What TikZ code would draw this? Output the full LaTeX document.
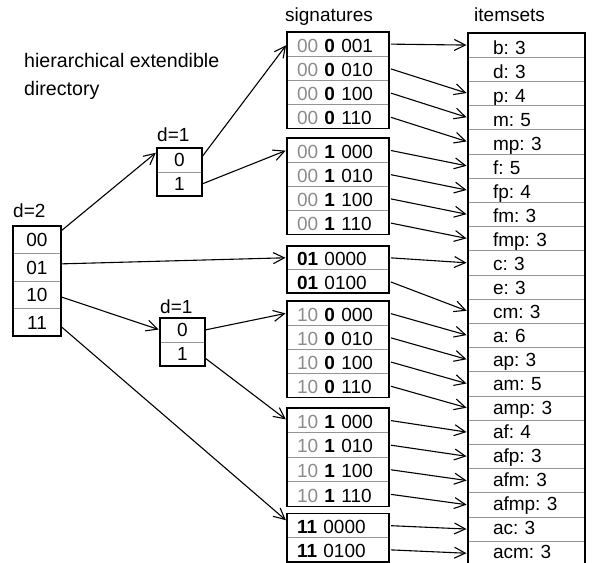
\documentclass[tikz,border=0pt]{standalone}
\usepackage{fontspec}
\setmainfont{Liberation Sans}
\usetikzlibrary{arrows.meta,positioning,fit}

\definecolor{rulegray}{gray}{0.58}
\definecolor{prefixgray}{gray}{0.55}

% signature: grey prefix, bold bit, tail
\newcommand{\sg}[3]{\mbox{\textcolor{prefixgray}{#1} \textbf{#2} #3}}
\newcommand{\sgb}[2]{\mbox{\textbf{#1} #2}}

\begin{document}
\frenchspacing
\begin{tikzpicture}[
  x=1pt, y=-1pt,
  font=\fontsize{19}{22}\selectfont,
  cell/.style={draw=rulegray,line width=1pt,inner sep=0pt,outer sep=0pt,anchor=north west},
  d2cell/.style={cell,minimum width=48,minimum height=27.5,text height=13.6,text depth=0pt},
  d1cell/.style={cell,minimum width=45,minimum height=24,text height=13.6,text depth=0pt},
  sigcell/.style={cell,minimum width=102,minimum height=#1,text width=82,align=left,text height=16,text depth=0pt},
  sigcell/.default=24.2,
  itemcell/.style={cell,minimum width=117,minimum height=24.2,text width=67,align=left,text depth=0pt},
  frame/.style={draw,line width=1.3pt,inner sep=0pt,outer sep=0pt},
  lbl/.style={inner sep=0pt},
  link/.style={-{Straight Barb[length=11pt,width=11pt]},line width=1.1pt,shorten >=1.5pt},
]
\useasboundingbox (0,0) rectangle (594,562);

% ---------- directory ----------
\node[lbl,align=left,anchor=north west,font=\fontsize{19.6}{27.5}\selectfont] (title) at (24,53.3)
  {hierarchical extendible\\directory};

\node[d2cell] (d2-00) at (13,226) {00};
\node[d2cell] (d2-01) at (13,253.5) {01};
\node[d2cell] (d2-10) at (13,281) {10};
\node[d2cell] (d2-11) at (13,308.5) {11};
\node[frame,fit=(d2-00)(d2-11)] (d2) {};
\node[lbl,above right=8pt and 0pt of d2.north west] (d2-lbl) {d=2};

\node[d1cell] (u1-0) at (157,148) {0};
\node[d1cell] (u1-1) at (157,172) {1};
\node[frame,fit=(u1-0)(u1-1)] (u1) {};
\node[lbl,above right=6pt and 0pt of u1.north west] (u1-lbl) {d=1};

\node[d1cell] (l1-0) at (160,318) {0};
\node[d1cell] (l1-1) at (160,342) {1};
\node[frame,fit=(l1-0)(l1-1)] (l1) {};
\node[lbl,above right=4.5pt and 0pt of l1.north west] (l1-lbl) {d=1};

% ---------- signatures ----------
\node[lbl,anchor=base west] (sig-head) at (285,21.5) {signatures};

\foreach \tail [count=\i] in {001,010,100,110}
  \node[sigcell] (A\i) at (287,{32+24.2*(\i-1)}) {\sg{00}{0}{\tail}};
\foreach \tail [count=\i] in {000,010,100,110}
  \node[sigcell] (B\i) at (287,{138+24.2*(\i-1)}) {\sg{00}{1}{\tail}};
\foreach \tail [count=\i] in {0000,0100}
  \node[sigcell=23.5] (C\i) at (287,{246+23.5*(\i-1)}) {\sgb{01}{\tail}};
\foreach \tail [count=\i] in {000,010,100,110}
  \node[sigcell] (D\i) at (287,{301+24.2*(\i-1)}) {\sg{10}{0}{\tail}};
\foreach \tail [count=\i] in {000,010,100,110}
  \node[sigcell=24.6] (E\i) at (287,{408+24.6*(\i-1)}) {\sg{10}{1}{\tail}};
\foreach \tail [count=\i] in {0000,0100}
  \node[sigcell] (F\i) at (287,{513.5+24.2*(\i-1)}) {\sgb{11}{\tail}};

\node[frame,fit=(A1)(A4)] {};
\node[frame,fit=(B1)(B4)] {};
\node[frame,fit=(C1)(C2)] {};
\node[frame,fit=(D1)(D4)] {};
\node[frame,fit=(E1)(E4)] {};
\node[frame,fit=(F1)(F2)] {};

% ---------- itemsets ----------
\node[lbl,anchor=base west] (item-head) at (474,21) {itemsets};

% texts run slightly tighter than the rules
\foreach \set/\cnt [count=\i] in {b/3,d/3,p/4,m/5,mp/3,f/5,fp/4,fm/3,fmp/3,c/3,e/3,
    cm/3,a/6,ap/3,am/5,amp/3,af/4,afp/3,afm/3,afmp/3,ac/3,acm/3}{
  \pgfmathsetmacro\th{17.8-0.4*(\i-1)}
  \node[itemcell,text height=\th pt] (i-\set) at (468,{33+24.2*(\i-1)}) {\mbox{\set: \cnt}};
}
\node[frame,fit=(i-b)(i-acm)] {};

% ---------- links ----------
\draw[link] (d2-00.20) -- (u1-0.160);
\draw[link] (d2-01.8) -- (C1.west);
\draw[link] (d2-10.-5) -- (l1-0.west);
\draw[link] (d2-11.-10) -- (F1.175);
\draw[link] (u1-0.8) -- (A1.west);
\draw[link] (u1-1.east) -- (B1.west);
\draw[link] (l1-0.east) -- (D1.west);
\draw[link] (l1-1.-10) -- (E1.west);

\foreach \s/\t in {A1/b,A2/p,A3/m,A4/mp,B1/f,B2/fp,B3/fm,B4/fmp,C1/c,C2/cm,
    D1/a,D2/ap,D3/am,D4/amp,E1/af,E2/afp,E3/afm,E4/afmp,F1/ac,F2/acm}
  \draw[link,shorten <=2pt] (\s.east) -- (i-\t.west);

\end{tikzpicture}
\end{document}
